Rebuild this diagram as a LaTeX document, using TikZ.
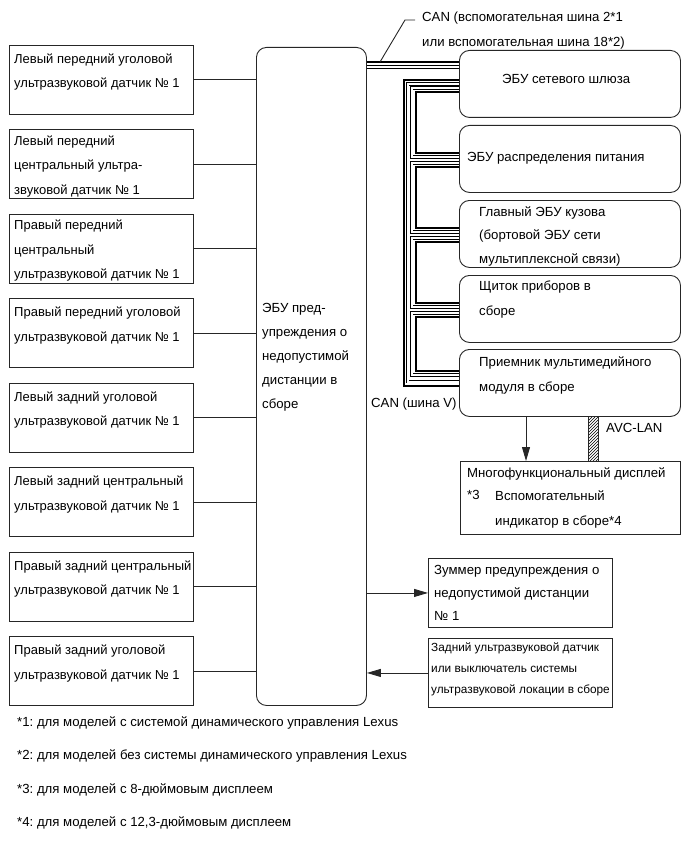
\documentclass[tikz,border=0pt]{standalone}
\usepackage{fontspec}
\setmainfont{Liberation Sans}
\frenchspacing
\usetikzlibrary{arrows.meta,patterns,calc}
\newcommand\fsz{\fontsize{13.2}{24.5}\selectfont}
\newcommand\fsm{\fontsize{11.8}{21}\selectfont}
\begin{document}
\begin{tikzpicture}[x=1pt,y=-1pt,
  bx/.style={draw=black!85, line width=0.9pt, inner sep=0pt, anchor=north west},
  rbx/.style={bx, rounded corners=10pt},
  txt/.style={anchor=base west, inner sep=0pt, align=left, font=\fsz},
  stxt/.style={anchor=base west, inner sep=0pt, align=left, font=\fsm},
  wire/.style={draw=black!85, line width=0.9pt},
  arr/.style={wire, -{Triangle[length=14pt,width=8pt]}},
  cant/.style={line width=2pt, line join=miter},
  canh/.style={line width=0.6pt, double=white, double distance=2pt, line join=miter}]
\useasboundingbox (0,0) rectangle (689,853);
% left sensor boxes (text node y = baseline of last line)
\foreach \i/\dy/\t in {1/88/{Левый передний уголовой\\ультразвуковой датчик № 1},
  2/110/{Левый передний\\центральный ультра-\\звуковой датчик № 1},
  3/110/{Правый передний\\центральный\\ультразвуковой датчик № 1},
  4/88/{Правый передний уголовой\\ультразвуковой датчик № 1},
  5/88/{Левый задний уголовой\\ультразвуковой датчик № 1},
  6/88/{Левый задний центральный\\ультразвуковой датчик № 1},
  7/88/{Правый задний центральный\\ультразвуковой датчик № 1},
  8/88/{Правый задний уголовой\\ультразвуковой датчик № 1}}{
  \node[bx, minimum width=184pt, minimum height=69pt] (l\i) at (9,{45+84.45*(\i-1)}) {};
  \node[txt, font=\fontsize{13}{24.5}\selectfont] (lt\i) at (14,{\dy+84.45*(\i-1)}) {\t};
}
% main ECU
\node[rbx, minimum width=110pt, minimum height=658pt] (ecu) at (256,47) {};
\node[txt, font=\fontsize{13.2}{24}\selectfont] (ecut) at (262,408) {ЭБУ пред-\\упреждения о\\недопустимой\\дистанции в\\сборе};
\foreach \i in {1,...,8}{ \draw[wire] (l\i.east) -- (l\i.east -| ecu.west); }
% right ECUs
\node[rbx, minimum width=221pt, minimum height=67pt] (gw) at (459,50) {};
\node[rbx, minimum width=221pt, minimum height=67pt] (pd) at (459,125) {};
\node[rbx, minimum width=221pt, minimum height=67pt] (be) at (459,200) {};
\node[rbx, minimum width=221pt, minimum height=67pt] (ic) at (459,275) {};
\node[rbx, minimum width=221pt, minimum height=67pt] (mm) at (459,349) {};
\node[txt] (gwt) at (502,84) {ЭБУ сетевого шлюза};
\node[txt] (pdt) at (467,161) {ЭБУ распределения питания};
\node[txt, font=\fontsize{13.2}{23.5}\selectfont] (bet) at (479,263) {Главный ЭБУ кузова\\(бортовой ЭБУ сети\\мультиплексной связи)};
\node[txt] (ict) at (479,315) {Щиток приборов в\\сборе};
\node[txt] (mmt) at (479,391) {Приемник мультимедийного\\модуля в сборе};
% CAN buses
\coordinate (xt) at (415.5,0);
\coordinate (xh) at (411.5,0);
\coordinate (xo) at (403.5,0);
\coordinate (xoh) at (407.5,0);
\coordinate (tb) at ($(gw.north west)+(0,12)$);
\coordinate (tbh) at ($(gw.north west)+(0,17)$);
\draw[canh] (tbh -| ecu.east) -- (tbh);
\draw[cant] (tb -| ecu.east) -- (tb);
\coordinate (o1) at ($(gw.north west)+(0,30)$);
\coordinate (o1h) at ($(gw.north west)+(0,34)$);
\coordinate (o2) at ($(mm.north west)+(0,37)$);
\coordinate (o2h) at ($(mm.north west)+(0,32.5)$);
\draw[canh] (o1h) -- (o1h -| xoh) -- (o2h -| xoh) -- (o2h);
\draw[cant] (o1) -- (o1 -| xo) -- (o2 -| xo) -- (o2);
\foreach \a/\b/\ey in {gw/pd/28, pd/be/28, be/ic/28, ic/mm/22}{
  \coordinate (p1) at ($(\a.north west)+(0,42)$);
  \coordinate (q1) at ($(\a.north west)+(0,38)$);
  \coordinate (p2) at ($(\b.north west)+(0,\ey)$);
  \coordinate (q2) at ($(\b.north west)+(0,\ey+4)$);
  \draw[canh] (q1) -- (q1 -| xh) -- (q2 -| xh) -- (q2);
  \draw[cant] (p1) -- (p1 -| xt) -- (p2 -| xt) -- (p2);
}
\coordinate (lead) at (380,62);
\coordinate (leadm) at (405,20);
\coordinate (leade) at (415,20);
\draw[wire] (lead) -- (leadm) -- (leade);
\node[txt] (canl) at (422,22) {CAN (вспомогательная шина 2*1};
\node[txt] (canl2) at (422,47) {или вспомогательная шина 18*2)};
\node[txt] (canv) at (371,407) {CAN (шина V)};
% multifunction display
\node[bx, minimum width=220pt, minimum height=73pt] (md) at (460,461) {};
\node[txt] (mdt) at (467,477) {Многофункциональный дисплей};
\node[txt] (mdt3) at (467,499) {*3};
\node[txt] (mdt2) at (495,525) {Вспомогательный\\индикатор в сборе*4};
\coordinate (a1) at (526,0);
\draw[arr] (a1 |- mm.south) -- (a1 |- md.north);
\coordinate (h1) at (588,0);
\coordinate (h2) at (598,0);
\draw[wire, pattern=north east lines] (h1 |- mm.south) rectangle (h2 |- md.north);
\node[txt] (avc) at (606,432) {AVC-LAN};
% buzzer and rear sensor
\node[bx, minimum width=184pt, minimum height=69pt] (bz) at (428,558) {};
\node[txt, font=\fontsize{13.2}{23}\selectfont] (bzt) at (434,620) {Зуммер предупреждения о\\недопустимой дистанции\\№ 1};
\node[bx, minimum width=184pt, minimum height=69pt] (rs) at (428,638) {};
\node[stxt] (rst) at (431,693) {Задний ультразвуковой датчик\\или выключатель системы\\ультразвуковой локации в сборе};
\draw[arr] (bz.west -| ecu.east) -- (bz.west);
\draw[arr] (rs.west) -- (rs.west -| ecu.east);
% footnotes
\node[txt] (f1) at (17,726) {*1: для моделей с системой динамического управления Lexus};
\node[txt] (f2) at (17,759) {*2: для моделей без системы динамического управления Lexus};
\node[txt] (f3) at (17,793) {*3: для моделей с 8-дюймовым дисплеем};
\node[txt] (f4) at (17,826) {*4: для моделей с 12,3-дюймовым дисплеем};
\end{tikzpicture}
\end{document}
